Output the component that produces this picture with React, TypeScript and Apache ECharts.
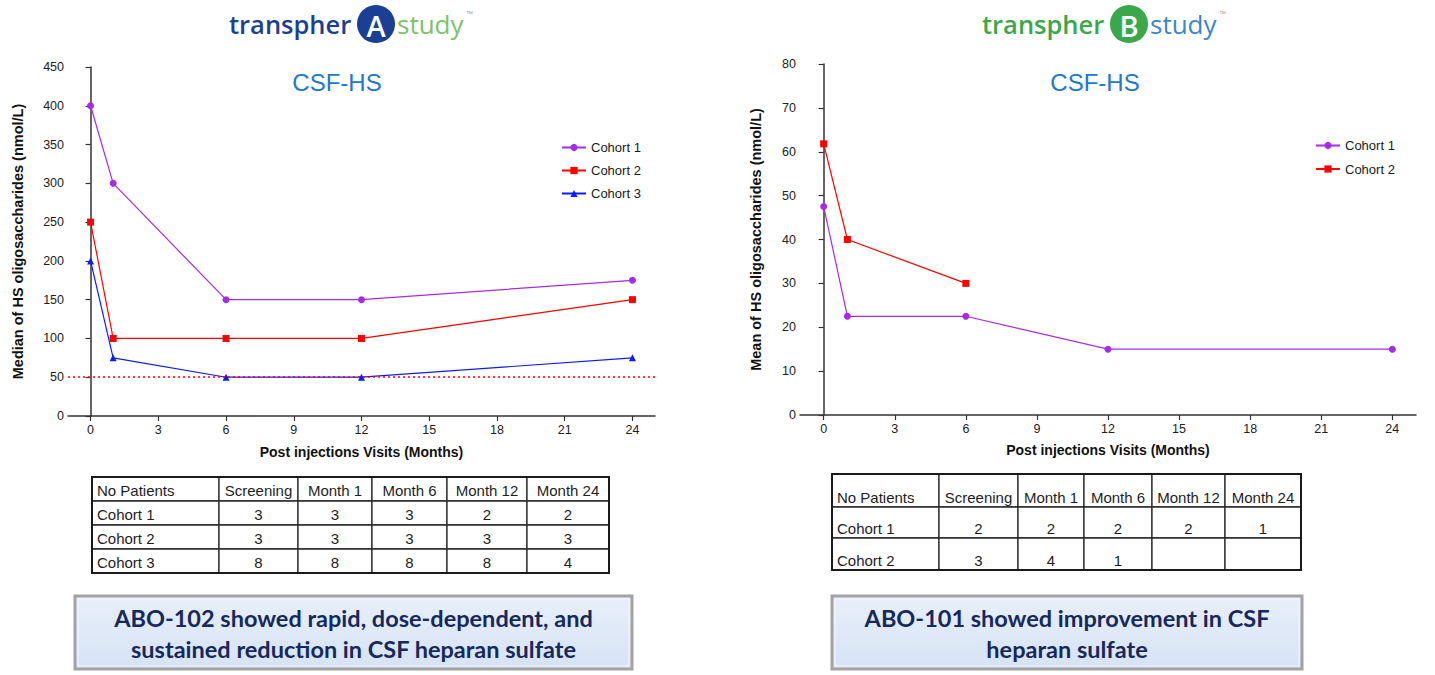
import React, { useEffect, useRef } from "react";
import * as echarts from "echarts";

// ---------- data ----------
const monthsA = [0, 1, 6, 12, 24];
const monthsB1 = [0, 1, 6, 12, 24];
const monthsB2 = [0, 1, 6];
const medianCohort1 = [400, 300, 150, 150, 175];
const medianCohort2 = [250, 100, 100, 100, 150];
const medianCohort3 = [200, 75, 50, 50, 75];
const thresholdA = 50;
const meanCohort1 = [47.5, 22.5, 22.5, 15, 15];
const meanCohort2 = [61.8, 40, 30];
const xTickValues = [0, 3, 6, 9, 12, 15, 18, 21, 24];

const tableHeaders = ["No Patients", "Screening", "Month 1", "Month 6", "Month 12", "Month 24"];
const tableARowNames = ["Cohort 1", "Cohort 2", "Cohort 3"];
const tableARows = [
  ["3", "3", "3", "2", "2"],
  ["3", "3", "3", "3", "3"],
  ["8", "8", "8", "8", "4"],
];
const tableBRowNames = ["Cohort 1", "Cohort 2"];
const tableBRows = [
  ["2", "2", "2", "2", "1"],
  ["3", "4", "1", "", ""],
];

const chartTitle = "CSF-HS";
const xAxisTitle = "Post injections Visits (Months)";
const yAxisTitleA = "Median of HS oligosaccharides (nmol/L)";
const yAxisTitleB = "Mean of HS oligosaccharides (nmol/L)";
const boxTextA = ["ABO-102 showed rapid, dose-dependent, and", "sustained reduction in CSF heparan sulfate"];
const boxTextB = ["ABO-101 showed improvement in CSF", "heparan sulfate"];

// ---------- styles ----------
const PURPLE = "#a52ce6";
const RED = "#ff0000";
const BLUE = "#0a1cff";
const AXIS = "#333333";
const FONT = "Liberation Sans, Arial, sans-serif";

const zip = (xs: number[], ys: number[]) => xs.map((x, i) => [x, ys[i]]);

function makeTable(cols: number[], rows: number[], names: string[], values: string[][], textDy: number | null) {
  const els: any[] = [];
  const allRows = [tableHeaders, ...names.map((n, i) => [n, ...values[i]])];
  for (let r = 0; r < allRows.length; r++) {
    for (let c = 0; c < cols.length - 1; c++) {
      const x0 = cols[c], x1 = cols[c + 1], y0 = rows[r], y1 = rows[r + 1];
      els.push({
        type: "rect",
        shape: { x: x0, y: y0, width: x1 - x0, height: y1 - y0 },
        style: { fill: "#ffffff", stroke: "#2a2a2a", lineWidth: 1.3 },
      });
      const txt = allRows[r][c];
      if (txt !== "") {
        const leftAlign = c === 0;
        els.push({
          type: "text",
          x: leftAlign ? x0 + 5 : (x0 + x1) / 2,
          y: textDy === null ? (y0 + y1) / 2 + 1 : y1 - textDy,
          style: {
            text: txt,
            fill: "#1e1e1e",
            font: `15px ${FONT}`,
            align: leftAlign ? "left" : "center",
            verticalAlign: "middle",
          },
        });
      }
    }
  }
  els.push({
    type: "rect",
    shape: { x: cols[0], y: rows[0], width: cols[cols.length - 1] - cols[0], height: rows[rows.length - 1] - rows[0] },
    style: { fill: "none", stroke: "#1a1a1a", lineWidth: 2 },
  });
  return els;
}

function makeBox(x: number, y: number, w: number, h: number, lines: string[]) {
  return [
    {
      type: "rect",
      shape: { x, y, width: w, height: h },
      style: {
        fill: new echarts.graphic.LinearGradient(0, 0, 0, 1, [
          { offset: 0, color: "#e8effa" },
          { offset: 1, color: "#d6e3f4" },
        ]),
        stroke: "#a3a3a3",
        lineWidth: 3,
      },
    },
    {
      type: "rect",
      shape: { x: x + 3, y: y + 3, width: w - 6, height: h - 6 },
      style: { fill: "none", stroke: "#f5f7fb", lineWidth: 1 },
    },
    ...lines.map((t, i) => ({
      type: "text",
      x: x + w / 2,
      y: y + 22 + i * 31,
      style: {
        text: t,
        fill: "#17295c",
        font: `bold 23.5px Lato, "Open Sans", sans-serif`,
        align: "center",
        verticalAlign: "middle",
      },
    })),
  ];
}

function makeLogo(x: number, cx: number, sx: number, letter: string, c1: string, c2: string) {
  return [
    {
      type: "text",
      x,
      y: 24,
      style: { text: "transpher", fill: c1, font: `600 25.5px "Open Sans", sans-serif`, align: "left", verticalAlign: "middle" },
    },
    { type: "circle", shape: { cx, cy: 24, r: 19 }, style: { fill: c1 } },
    {
      type: "text",
      x: cx,
      y: 25,
      style: { text: letter, fill: "#ffffff", font: `600 29px "Open Sans", sans-serif`, align: "center", verticalAlign: "middle" },
    },
    {
      type: "text",
      x: sx,
      y: 24,
      style: { text: "study", fill: c2, font: `26px "Open Sans", sans-serif`, align: "left", verticalAlign: "middle" },
    },
    {
      type: "text",
      x: sx + 69,
      y: 13,
      style: { text: "™", fill: "#999999", font: `7px ${FONT}`, align: "left", verticalAlign: "middle" },
    },
  ];
}

function xAxisCfg(gridIndex: number, nameGap: number) {
  return {
    type: "value",
    gridIndex,
    min: -1,
    max: 25,
    axisLine: { show: true, onZero: false, lineStyle: { color: AXIS, width: 1.5 } },
    axisTick: { show: true, length: 5, customValues: xTickValues, lineStyle: { color: AXIS, width: 1.2 } },
    axisLabel: { customValues: xTickValues, fontSize: 12.5, color: "#222", margin: 7, fontFamily: FONT },
    splitLine: { show: false },
    name: xAxisTitle,
    nameLocation: "middle",
    nameGap,
    nameTextStyle: { fontWeight: "bold", fontSize: 14, color: "#111", fontFamily: FONT },
  };
}

function yAxisCfg(gridIndex: number, max: number, interval: number, name: string, nameGap: number) {
  return {
    type: "value",
    gridIndex,
    min: 0,
    max,
    interval,
    axisLine: { show: true, lineStyle: { color: AXIS, width: 1.5 } },
    axisTick: { show: true, length: 5, lineStyle: { color: AXIS, width: 1.2 } },
    axisLabel: { fontSize: 12.5, color: "#222", margin: 4, fontFamily: FONT },
    splitLine: { show: false },
    name,
    nameLocation: "middle",
    nameGap,
    nameTextStyle: { fontWeight: "bold", fontSize: 14.5, color: "#111", fontFamily: FONT },
  };
}

function lineSeries(name: string, xi: number, data: number[][], color: string, symbol: string, size: number, extra: any = {}) {
  return {
    type: "line",
    name,
    xAxisIndex: xi,
    yAxisIndex: xi,
    data,
    symbol,
    symbolSize: size,
    showSymbol: true,
    lineStyle: { color, width: 1.2 },
    itemStyle: { color },
    ...extra,
  };
}

export default function App() {
  const ref = useRef<HTMLDivElement>(null);
  useEffect(() => {
    document.body.style.margin = "0";
    const chart = echarts.init(ref.current!, null, { renderer: "svg" });
    const option: any = {
      animation: false,
      backgroundColor: "#ffffff",
      textStyle: { fontFamily: FONT },
      grid: [
        { left: 68, top: 67, width: 587, height: 349 },
        { left: 800, top: 64, width: 616, height: 351 },
      ],
      xAxis: [xAxisCfg(0, 29), xAxisCfg(1, 28)],
      yAxis: [yAxisCfg(0, 450, 50, yAxisTitleA, 43), yAxisCfg(1, 80, 10, yAxisTitleB, 37)],
      legend: [
        {
          orient: "vertical",
          left: 556,
          top: 136,
          itemWidth: 24,
          itemHeight: 9,
          itemGap: 10,
          data: ["Cohort 1", "Cohort 2", "Cohort 3"],
          textStyle: { fontSize: 13, color: "#1a1a1a", fontFamily: FONT },
        },
        {
          orient: "vertical",
          left: 1310,
          top: 134,
          itemWidth: 24,
          itemHeight: 9,
          itemGap: 10.5,
          data: ["Cohort 1", "Cohort 2"],
          textStyle: { fontSize: 13, color: "#1a1a1a", fontFamily: FONT },
        },
      ],
      series: [
        lineSeries("Cohort 1", 0, zip(monthsA, medianCohort1), PURPLE, "circle", 7),
        lineSeries("Cohort 2", 0, zip(monthsA, medianCohort2), RED, "rect", 7),
        lineSeries("Cohort 3", 0, zip(monthsA, medianCohort3), BLUE, "triangle", 7, {
          markLine: {
            silent: true,
            symbol: "none",
            label: { show: false },
            lineStyle: { color: RED, type: [2, 3], width: 1.5 },
            data: [{ yAxis: thresholdA }],
          },
        }),
        lineSeries("Cohort 1", 1, zip(monthsB1, meanCohort1), PURPLE, "circle", 7),
        lineSeries("Cohort 2", 1, zip(monthsB2, meanCohort2), RED, "rect", 7),
      ],
      graphic: [
        ...makeLogo(229, 376, 397, "A", "#1b3f94", "#7cc36a"),
        ...makeLogo(982, 1129, 1150, "B", "#3aa84a", "#3b87c9"),
        {
          type: "text",
          x: 337,
          y: 82,
          style: { text: chartTitle, fill: "#2278c8", font: `24px ${FONT}`, align: "center", verticalAlign: "middle" },
        },
        {
          type: "text",
          x: 1095,
          y: 82,
          style: { text: chartTitle, fill: "#2278c8", font: `24px ${FONT}`, align: "center", verticalAlign: "middle" },
        },
        ...makeTable([92, 219, 298, 372, 447, 527, 609], [477, 501, 525, 549, 573], tableARowNames, tableARows, null),
        ...makeTable([832, 939, 1018, 1084, 1152, 1225, 1301], [474, 507, 538, 570], tableBRowNames, tableBRows, 10),
        ...makeBox(75, 596, 557, 73, boxTextA),
        ...makeBox(832, 596, 470, 73, boxTextB),
      ],
    };
    chart.setOption(option);
    return () => chart.dispose();
  }, []);
  return <div ref={ref} style={{ position: "absolute", left: 0, top: 0, width: 1435, height: 675 }} />;
}
